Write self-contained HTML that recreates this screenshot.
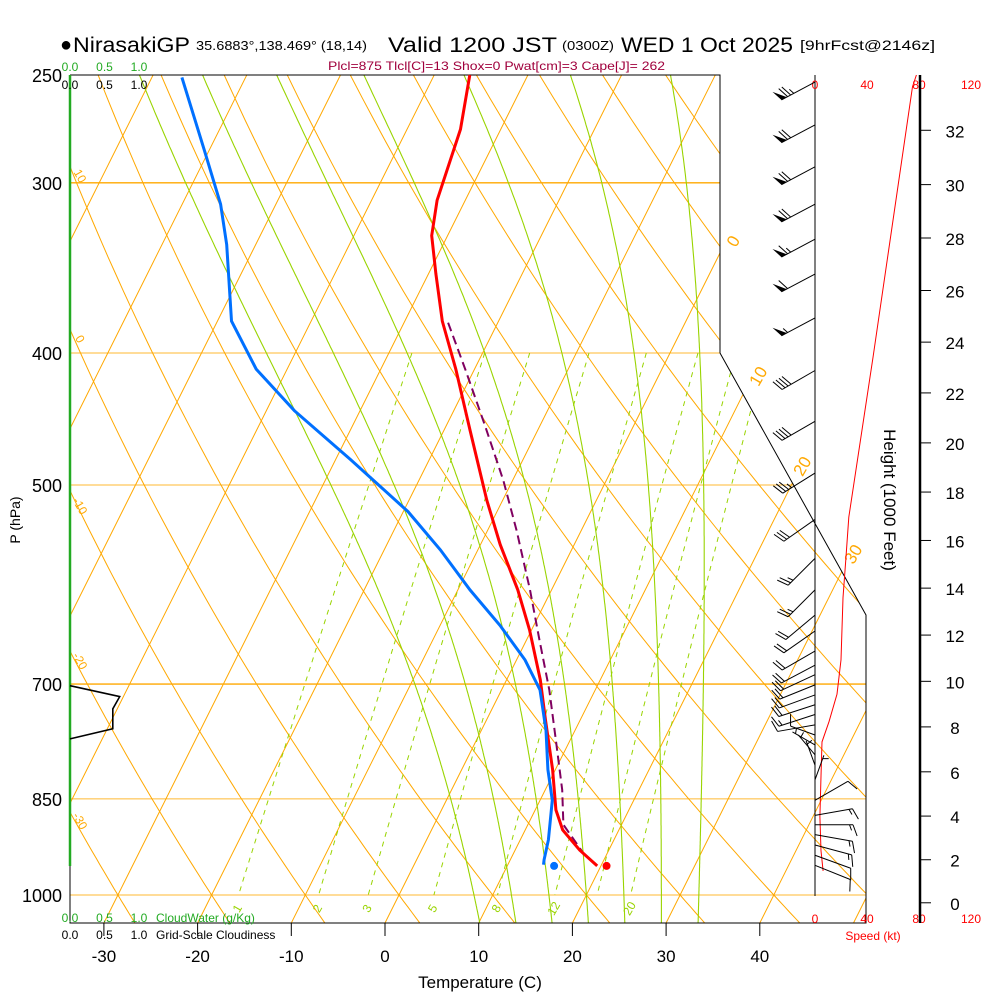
<!DOCTYPE html>
<html><head><meta charset="utf-8"><style>
html,body{margin:0;padding:0;background:#fff}
svg{display:block;font-family:"Liberation Sans",sans-serif}
</style></head><body>
<svg id="c" width="1000" height="1000" viewBox="0 0 1000 1000">
<defs><clipPath id="plotclip"><polygon points="70,75 720,75 720,353 866,615 866,923 70,923"/></clipPath></defs>
<g id="bg" clip-path="url(#plotclip)"></g>
<g id="fg"></g>
<g>
<text x="60" y="51" font-size="20">●</text>
<text x="73" y="52" font-size="21" textLength="117" lengthAdjust="spacingAndGlyphs">NirasakiGP</text>
<text x="196" y="50" font-size="13" textLength="171" lengthAdjust="spacingAndGlyphs">35.6883°,138.469° (18,14)</text>
<text x="388" y="52" font-size="21" textLength="169" lengthAdjust="spacingAndGlyphs">Valid 1200 JST</text>
<text x="562" y="50" font-size="13" textLength="52" lengthAdjust="spacingAndGlyphs">(0300Z)</text>
<text x="621" y="52" font-size="21" textLength="172" lengthAdjust="spacingAndGlyphs">WED 1 Oct 2025</text>
<text x="800" y="50" font-size="14" textLength="135" lengthAdjust="spacingAndGlyphs">[9hrFcst@2146z]</text>
</g>
<text x="328" y="70" font-size="12" fill="#a0003c" textLength="337" lengthAdjust="spacingAndGlyphs">Plcl=875 Tlcl[C]=13 Shox=0 Pwat[cm]=3 Cape[J]= 262</text>
</svg>
<script>
// ---- data ----
var tempP=[250,274,309,328,350,379,411,456,513,553,597,639,695,744,809,866,896,927,952];
var tempT=[-36.2,-34.3,-33,-31.7,-29.2,-26,-22,-17.2,-11.7,-7.9,-3.6,-0.2,3.6,6.3,9.7,12.2,14,16.9,19.6];
var dewP=[251,284,311,333,379,411,441,479,523,558,597,634,672,707,757,809,852,911,942,950];
var dewT=[-66.8,-60.5,-55.9,-53.1,-48.5,-43.3,-37,-28.4,-19.5,-14,-8.7,-3.6,0.9,4.1,6.9,9.2,11.3,13,13.6,13.8];
var parcelP=[380,411,452,496,540,597,650,707,770,837,888,935,952];
var parcelT=[-25.3,-21,-15.9,-11,-6.9,-2.3,1.4,5.1,8.5,11.8,13.8,17.7,19.7];
var sfcP=[952];
var sfcT=[20.6];
var sfcTd=[15.0];
var cloudP=[702,715,730,755,768];
var cloudFrac=[0,0.72,0.62,0.62,0];
var speedP=[250,255,403,528,566,605,672,712,746,772,818,876,928,960];
var speedKt=[78,75,44.6,26,23.8,21.5,20,16.9,10.8,5.4,4.6,3.8,4.6,6.2];
var barbP=[253,272,292,311,330,350,377,412,449,490,530,566,597,623,640,662,678,689,701,713,725,737,750,763,776,789,803,823,852,874,888,903,919,935,951];
var barbDir=[242,242,242,242,242,242,242,240,240,238,235,225,225,230,235,240,242,245,248,250,252,252,260,290,300,320,340,20,60,80,90,100,105,110,112];
var barbSpd=[75,72,70,68,65,60,55,40,38,35,28,25,25,22,20,20,18,18,18,18,18,16,12,8,5,5,5,5,10,15,15,15,15,12,12];
var tempTicks=[-30,-20,-10,0,10,20,30,40];
var isobars=[250,300,400,500,700,850,1000];
var mixRatios=[1,2,3,5,8,12,16,20];
var mixLabels=[1,2,3,5,8,12,20];
var moistThetaW=[8,12,16,20,24,28,32];
var heightTicks=[0,2,4,6,8,10,12,14,16,18,20,22,24,26,28,30,32];
var speedTicks=[0,40,80,120];
var cloudTicks=["0.0","0.5","1.0"];

// ---- axes ----
function yP(p){return 895-591.5*Math.log(1000/p);}
function xT(T,p){return 385+9.37*T+0.5*(923-yP(p));}
function xS(s){return 815+1.3*s;}
function xC(c){return 70+69*c;}
function pFromZft(z){var m=z*1000*0.3048;return 1013.25*Math.pow(1-2.25577e-5*m,5.25588);}
function esat(T){return 6.112*Math.exp(17.67*T/(T+243.5));}

var NS='http://www.w3.org/2000/svg';
var bg=document.getElementById('bg'),fg=document.getElementById('fg');
function mk(tag,attrs,parent){var e=document.createElementNS(NS,tag);for(var k in attrs)e.setAttribute(k,attrs[k]);(parent||fg).appendChild(e);return e;}
function pts(arr){return arr.map(function(a){return a[0].toFixed(1)+','+a[1].toFixed(1);}).join(' ');}
function txt(x,y,s,size,fill,anchor,parent){var e=mk('text',{x:x,y:y,'font-size':size,fill:fill||'#000','text-anchor':anchor||'start'},parent);e.textContent=s;return e;}

var ORANGE='#ffa800',GREEN='#99d400';
isobars.forEach(function(p){
 var thick=(p==300||p==700);
 var l=mk('line',{x1:70,x2:870,y1:yP(p),y2:yP(p),stroke:ORANGE,'stroke-width':thick?1.4:1,opacity:thick?1:0.8},bg);
 
 
});
for(var T=-110;T<=50;T+=10){
 var l=mk('line',{x1:xT(T,1060),y1:yP(1060),x2:xT(T,240),y2:yP(240),stroke:ORANGE,'stroke-width':1},bg);
 
 
}
for(var th=-40;th<=200;th+=10){
 var a=[];for(var p=240;p<=1060;p+=10){var Tk=(th+273.15)*Math.pow(p/1000,0.2857);a.push([xT(Tk-273.15,p),yP(p)]);}
 var l=mk('polyline',{points:pts(a),fill:'none',stroke:ORANGE,'stroke-width':1},bg);
 
 
}
function moistPath(tw){
 var Rd=287.04,cp=1005.7,Lv=2.501e6,eps=0.622;
 function dTdp(Tk,p){var es=esat(Tk-273.15);var rs=eps*es/(p-es);return (Rd*Tk+Lv*rs)/(p*(cp+Lv*Lv*rs*eps/(Rd*Tk*Tk)));}
 var up=[],dn=[];var Tk=tw+273.15;
 for(var p=1000;p>=240;p-=2){up.push([xT(Tk-273.15,p),yP(p)]);Tk-=dTdp(Tk,p)*2;}
 Tk=tw+273.15;for(var p2=1000;p2<=1060;p2+=2){dn.push([xT(Tk-273.15,p2),yP(p2)]);Tk+=dTdp(Tk,p2)*2;}
 return dn.reverse().concat(up);
}
moistThetaW.forEach(function(tw){
 var l=mk('polyline',{points:pts(moistPath(tw)),fill:'none',stroke:GREEN,'stroke-width':1.1},bg);
 
 
});
mixRatios.forEach(function(w){
 var a=[];for(var p=400;p<=1000;p+=10){var e=w*p/(622+w);var L=Math.log(e/6.112);var T=243.5*L/(17.67-L);a.push([xT(T,p),yP(p)]);}
 var l=mk('polyline',{points:pts(a),fill:'none',stroke:GREEN,'stroke-width':1,'stroke-dasharray':'5,5'},bg);
 
 
});
mixLabels.forEach(function(w){
 var e=w*1000/(622+w);var L=Math.log(e/6.112);var T=243.5*L/(17.67-L);
 var t=txt(xT(T,1000)-2,913,String(w),12,GREEN,'middle');
 t.setAttribute('transform','rotate(-60 '+(xT(T,1000)-2)+' 908)');
 
 
});
[[10,180],[0,343],[-10,510],[-20,665],[-30,825]].forEach(function(d){
 var t=txt(80,d[1],String(d[0]),12,ORANGE,'middle');
 t.setAttribute('transform','rotate(60 80 '+(d[1]-4)+')');
 
 
});
[[0,733,247],[10,758,382],[20,802,472],[30,853,560]].forEach(function(d){
 var t=txt(d[1],d[2],String(d[0]),17,ORANGE,'middle');
 t.setAttribute('transform','rotate(-60 '+d[1]+' '+(d[2]-6)+')');
 
 
});

var fr=mk('polyline',{points:'70,75 720,75 720,353 866,615 866,923 70,923 70,75',fill:'none',stroke:'#000','stroke-width':1});


var gl=mk('line',{x1:70,x2:70,y1:75,y2:866,stroke:'#22aa22','stroke-width':2.5});



var cl=mk('polyline',{points:pts(cloudP.map(function(p,i){return [xC(cloudFrac[i]),yP(p)];})),fill:'none',stroke:'#000','stroke-width':1.6});



var par=mk('polyline',{points:pts(parcelP.map(function(p,i){return [xT(parcelT[i],p),yP(p)];})),fill:'none',stroke:'#800060','stroke-width':2,'stroke-dasharray':'9,5'});


var tl=mk('polyline',{points:pts(tempP.map(function(p,i){return [xT(tempT[i],p),yP(p)];})),fill:'none',stroke:'#ff0000','stroke-width':3});


var dl=mk('polyline',{points:pts(dewP.map(function(p,i){return [xT(dewT[i],p),yP(p)];})),fill:'none',stroke:'#0070ff','stroke-width':3});


var sd=mk('circle',{cx:xT(sfcT[0],sfcP[0]),cy:yP(sfcP[0]),r:4,fill:'#ff0000'});


var sdd=mk('circle',{cx:xT(sfcTd[0],sfcP[0]),cy:yP(sfcP[0]),r:4,fill:'#0070ff'});



isobars.forEach(function(p){
 var t=txt(62,yP(p)+7,String(p),18,'#000','end');
 
 
});
var pl=txt(20,520,'P (hPa)',14,'#000','middle');
pl.setAttribute('transform','rotate(-90 20 520)');


tempTicks.forEach(function(T){
 var x=385+9.37*T;
 var tk=mk('line',{x1:x,x2:x,y1:923,y2:936,stroke:'#000','stroke-width':1});
 
 
 var t=txt(x,962,String(T),17,'#000','middle');
 
 
});
var xt=txt(480,988,'Temperature (C)',17,'#000','middle');


cloudTicks.forEach(function(s,i){
 var a=txt(xC(i*0.5),71,s,12,'#22aa22','middle');
 var b=txt(xC(i*0.5),89,s,12,'#000','middle');
 var c=txt(xC(i*0.5),922,s,12,'#22aa22','middle');
 var d=txt(xC(i*0.5),939,s,12,'#000','middle');
});
var cw=txt(156,922,'CloudWater (g/Kg)',12,'#22aa22');


var gc=txt(156,939,'Grid-Scale Cloudiness',12,'#000');



var ws=mk('line',{x1:815,x2:815,y1:75,y2:896,stroke:'#000','stroke-width':1});


speedTicks.forEach(function(s){
 var a=txt(xS(s),89,String(s),12,'#ff0000','middle');
 var b=txt(xS(s),923,String(s),12,'#ff0000','middle');
});
var st=txt(873,940,'Speed (kt)',12,'#ff0000','middle');


var sl=mk('polyline',{points:pts(speedP.map(function(p,i){return [xS(speedKt[i]),yP(p)];})),fill:'none',stroke:'#ff0000','stroke-width':1});


barbP.forEach(function(p,i){
 var g=mk('g',{});
 
 
 var d=barbDir[i]*Math.PI/180,L=38,bx=815,by=yP(p);
 if(barbSpd[i]<=8)L=26;
 var ux=Math.sin(d),uy=-Math.cos(d);
 var tx=bx+ux*L,ty=by+uy*L;
 mk('line',{x1:bx,y1:by,x2:tx,y2:ty,stroke:'#000','stroke-width':1},g);
 var a=70*Math.PI/180;var fx=ux*Math.cos(a)-uy*Math.sin(a),fy=ux*Math.sin(a)+uy*Math.cos(a);
 var s=Math.round(barbSpd[i]/5)*5,pos=0;
 while(s>=50){var x0=tx-ux*pos,y0=ty-uy*pos,x1=tx-ux*(pos+6),y1=ty-uy*(pos+6);
  mk('polygon',{points:pts([[x0,y0],[x0+fx*12,y0+fy*12],[x1,y1]]),fill:'#000'},g);pos+=7;s-=50;}
 while(s>=10){var x2=tx-ux*pos,y2=ty-uy*pos;mk('line',{x1:x2,y1:y2,x2:x2+fx*12,y2:y2+fy*12,stroke:'#000','stroke-width':1},g);pos+=3.5;s-=10;}
 if(s>=5){if(pos==0)pos=3.5;var x3=tx-ux*pos,y3=ty-uy*pos;mk('line',{x1:x3,y1:y3,x2:x3+fx*6,y2:y3+fy*6,stroke:'#000','stroke-width':1},g);}
});
var ha=mk('line',{x1:920,x2:920,y1:75,y2:923,stroke:'#000','stroke-width':2.5});


heightTicks.forEach(function(h){
 var y=yP(pFromZft(h));
 var tk=mk('line',{x1:920,x2:931,y1:y,y2:y,stroke:'#000','stroke-width':1});
 
 
 var t=txt(955,y+7,String(h),17,'#000','middle');
 
 
});
var ht=txt(884,500,'Height (1000 Feet)',17,'#000','middle');
ht.setAttribute('transform','rotate(90 884 500)');


</script>
</body></html>
